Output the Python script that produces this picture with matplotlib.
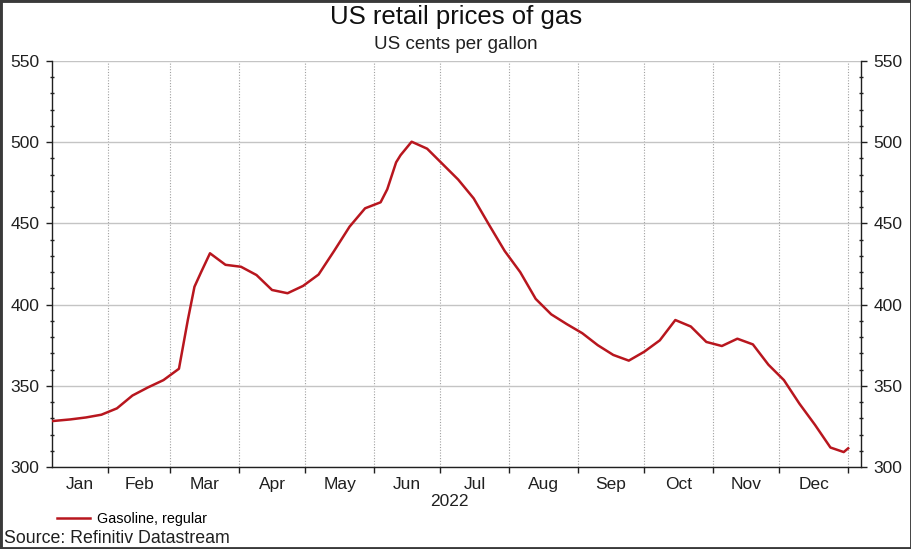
import numpy as np
import pandas as pd
import matplotlib
matplotlib.use("Agg")
import matplotlib.pyplot as plt
import matplotlib.dates as mdates
from matplotlib.patches import Rectangle
from matplotlib.ticker import MultipleLocator, FixedLocator, NullFormatter

plt.rcParams['font.family'] = ['Liberation Sans', 'DejaVu Sans']

dates = ["2022-01-07", "2022-01-15", "2022-01-22", "2022-01-29", "2022-02-05",
         "2022-02-12", "2022-02-19", "2022-02-26", "2022-03-05", "2022-03-09",
         "2022-03-12", "2022-03-15", "2022-03-19", "2022-03-26", "2022-04-02",
         "2022-04-09", "2022-04-16", "2022-04-23", "2022-04-30", "2022-05-07",
         "2022-05-14", "2022-05-21", "2022-05-28", "2022-06-04", "2022-06-07",
         "2022-06-11", "2022-06-13", "2022-06-18", "2022-06-25", "2022-07-02",
         "2022-07-09", "2022-07-16", "2022-07-23", "2022-07-30", "2022-08-06",
         "2022-08-13", "2022-08-20", "2022-08-27", "2022-09-03", "2022-09-10",
         "2022-09-17", "2022-09-24", "2022-10-01", "2022-10-08", "2022-10-15",
         "2022-10-22", "2022-10-29", "2022-11-05", "2022-11-12", "2022-11-19",
         "2022-11-26", "2022-12-03", "2022-12-10", "2022-12-17", "2022-12-24",
         "2022-12-30", "2023-01-01"]
gasoline = [328.3, 329.3, 330.5, 332.2, 336.1,
            344.0, 349.0, 353.5, 360.5, 390.5,
            411.0, 420.0, 431.6, 424.5, 423.3,
            418.2, 409.0, 407.0, 411.5, 418.5,
            433.0, 448.0, 459.3, 463.0, 471.0,
            487.6, 492.0, 500.3, 496.0, 486.5,
            477.0, 465.4, 449.0, 433.0, 420.0,
            403.5, 394.0, 388.0, 382.4, 375.0,
            369.0, 365.5, 371.0, 378.0, 390.5,
            386.5, 377.0, 374.5, 379.0, 375.5,
            363.0, 353.5, 339.0, 326.0, 312.0,
            309.2, 311.5]

x_start = pd.Timestamp("2022-01-06 17:00")
x_end = pd.Timestamp("2023-01-06 19:00")
month_starts = pd.date_range("2022-02-01", "2023-01-01", freq="MS")
month_names = ["Jan", "Feb", "Mar", "Apr", "May", "Jun",
               "Jul", "Aug", "Sep", "Oct", "Nov", "Dec"]

t = pd.to_datetime(dates)

fig = plt.figure(figsize=(9.12, 5.49), dpi=100)
ax = fig.add_axes([52 / 912, 1 - 467 / 549, (861 - 52) / 912, (467 - 61) / 549])

ax.plot(t, gasoline, color='#b8161e', lw=1.8, label='Gasoline, regular',
        solid_joinstyle='round', zorder=3)

ax.set_xlim(x_start, x_end)
ax.set_ylim(300, 550)

# y axis: both sides
ax.yaxis.set_major_locator(MultipleLocator(50))
ax.yaxis.set_minor_locator(MultipleLocator(10))
ax.tick_params(axis='y', which='major', direction='out', length=4, width=1,
               labelsize=12.5, pad=5, colors='#202020', left=True, right=True,
               labelleft=True, labelright=True)
ax.tick_params(axis='y', which='minor', direction='inout', length=3, width=1,
               colors='#202020', left=True, right=True)
ax.grid(axis='y', which='major', color='#c4c4c4', lw=1, ls='-')

# x axis: month boundaries as ticks/grid, names centred in each month
bounds = [mdates.date2num(d) for d in month_starts]
edges = [mdates.date2num(x_start)] + bounds
centres = [(edges[i] + edges[i + 1]) / 2 for i in range(12)]
ax.xaxis.set_major_locator(FixedLocator(bounds))
ax.xaxis.set_major_formatter(NullFormatter())
ax.xaxis.set_minor_locator(FixedLocator(centres))
ax.xaxis.set_minor_formatter(matplotlib.ticker.FixedFormatter(month_names))
ax.tick_params(axis='x', which='major', direction='out', length=4, width=1,
               colors='#202020')
ax.tick_params(axis='x', which='minor', length=0, pad=7, labelsize=12.5,
               labelcolor='#202020')
ax.grid(axis='x', which='major', color='#a0a0a0', lw=0.8, ls=(0, (1, 1.5)))

for side in ['left', 'right', 'bottom']:
    ax.spines[side].set_color('#202020')
    ax.spines[side].set_linewidth(1)
ax.spines['top'].set_visible(False)
ax.set_axisbelow(True)

fig.text(456 / 912, 1 - 24 / 549, "US retail prices of gas", ha='center',
         va='baseline', fontsize=18.5, color='#101010')
fig.text(456 / 912, 1 - 49 / 549, "US cents per gallon", ha='center',
         va='baseline', fontsize=13.5, color='#202020')
fig.text(449 / 912, 1 - 506 / 549, "2022", ha='center', va='baseline',
         fontsize=12.5, color='#202020')
fig.text(4 / 912, 1 - 543 / 549, "Source: Refinitiv Datastream", ha='left',
         va='baseline', fontsize=12.8, color='#202020')

ax.legend(loc='center left', bbox_to_anchor=(57 / 912, 1 - 519 / 549),
          bbox_transform=fig.transFigure, frameon=False, borderpad=0,
          borderaxespad=0, handlelength=2.3, handletextpad=0.5,
          fontsize=10.4)

fig.patches.append(Rectangle((0, 0), 1, 1, transform=fig.transFigure,
                             fill=False, edgecolor='#3a3a3a', lw=3.5))

fig.savefig("out.png", dpi=100)
